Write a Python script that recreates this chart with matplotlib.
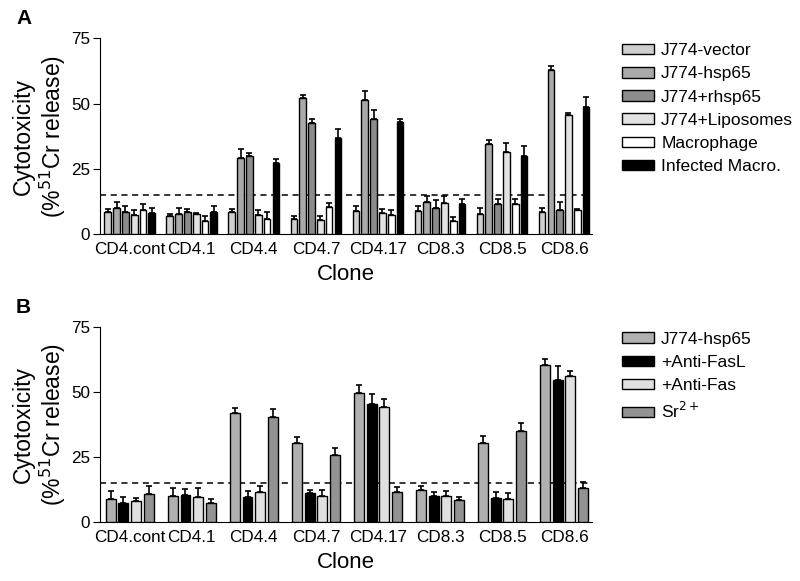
import numpy as np
import matplotlib.pyplot as plt

plt.rcParams['font.family'] = ['Liberation Sans', 'DejaVu Sans']

clones = ["CD4.cont", "CD4.1", "CD4.4", "CD4.7", "CD4.17", "CD8.3", "CD8.5", "CD8.6"]

# panel A: one list per treatment, one value per clone
names_a = ["J774-vector", "J774-hsp65", "J774+rhsp65", "J774+Liposomes", "Macrophage", "Infected Macro."]
vals_a = [
    [8.3, 6.8, 8.3, 5.9, 8.7, 8.8, 7.7, 8.3],
    [10.2, 7.9, 29.1, 52.3, 51.3, 12.4, 34.6, 63.0],
    [8.3, 8.3, 29.9, 42.7, 44.0, 10.1, 11.4, 9.4],
    [7.5, 7.7, 7.5, 5.6, 8.0, 11.9, 31.4, 45.6],
    [9.1, 5.2, 5.9, 10.3, 7.4, 5.2, 11.4, 9.1],
    [8.0, 8.4, 27.4, 36.7, 43.0, 11.6, 30.1, 48.6],
]
errs_a = [
    [1.3, 1.0, 1.4, 1.1, 1.9, 1.8, 2.4, 1.9],
    [2.0, 2.0, 3.7, 0.9, 3.4, 2.4, 1.4, 1.5],
    [2.3, 1.5, 1.3, 1.4, 3.7, 2.8, 1.9, 2.8],
    [1.8, 0.4, 1.9, 1.4, 1.7, 2.7, 3.6, 0.9],
    [2.3, 1.7, 2.4, 1.5, 2.0, 1.3, 1.9, 0.6],
    [2.0, 2.3, 1.4, 3.4, 1.0, 1.9, 3.6, 3.8],
]
colors_a = ["#cfcfcf", "#a9a9a9", "#8c8c8c", "#e2e2e2", "#ffffff", "#000000"]

# panel B
names_b = ["J774-hsp65", "+Anti-FasL", "+Anti-Fas", "Sr$^{2+}$"]
vals_b = [
    [8.7, 10.0, 42.0, 30.3, 49.7, 12.2, 30.3, 60.4],
    [7.4, 10.3, 9.7, 11.0, 45.5, 10.1, 9.2, 54.7],
    [8.1, 9.6, 11.5, 9.9, 44.1, 9.9, 9.0, 56.2],
    [10.8, 7.3, 40.3, 25.8, 11.7, 8.5, 35.1, 12.9],
]
errs_b = [
    [3.1, 3.2, 2.0, 2.3, 3.1, 1.5, 2.7, 2.4],
    [2.3, 2.3, 2.4, 1.4, 3.5, 1.3, 2.2, 5.4],
    [1.0, 3.6, 2.4, 2.4, 3.3, 2.2, 2.1, 1.8],
    [3.0, 1.4, 3.1, 2.6, 1.7, 1.0, 2.8, 2.3],
]
colors_b = ["#b0b0b0", "#000000", "#e0e0e0", "#939393"]

threshold = 15


def panel(ax, names, vals, errs, colors, width, pitch):
    x = np.arange(len(clones))
    n = len(names)
    for i in range(n):
        off = (i - (n - 1) / 2) * pitch
        e = np.array(errs[i])
        ax.bar(x + off, vals[i], width, color=colors[i], edgecolor="black",
               linewidth=1.0, label=names[i], zorder=3,
               yerr=[np.zeros_like(e), e], capsize=2,
               error_kw=dict(elinewidth=1.2, capthick=1.2, ecolor="black"))
    ax.axhline(threshold, color="black", ls=(0, (4, 3)), lw=1.1, zorder=1)
    ax.set_xlim(-0.48, 7.45)
    ax.set_ylim(0, 75)
    ax.set_yticks([0, 25, 50, 75])
    ax.set_xticks(x)
    ax.set_xticklabels(clones, fontsize=12.3)
    ax.tick_params(axis="x", length=0, pad=6)
    ax.tick_params(axis="y", labelsize=12.3, length=5, pad=2)
    for s in ["top", "right"]:
        ax.spines[s].set_visible(False)
    ax.set_ylabel("Cytotoxicity\n(%$^{51}$Cr release)", fontsize=16.5,
                  labelpad=2, linespacing=1.15)
    ax.set_xlabel("Clone", fontsize=16, labelpad=5)
    ax.legend(loc="upper left", bbox_to_anchor=(1.047, 1.01), frameon=False,
              fontsize=12.5, handlelength=1.85, handleheight=0.55,
              handletextpad=0.4, labelspacing=0.47, borderaxespad=0)


fig = plt.figure(figsize=(8, 5.81), dpi=100)
ax1 = fig.add_axes([0.125, 0.597, 0.615, 0.337])
ax2 = fig.add_axes([0.125, 0.1015, 0.615, 0.336])

panel(ax1, names_a, vals_a, errs_a, colors_a, 0.108, 0.142)
panel(ax2, names_b, vals_b, errs_b, colors_b, 0.16, 0.205)

fig.text(0.02, 0.968, "A", fontsize=15, fontweight="bold", va="center")
fig.text(0.02, 0.47, "B", fontsize=15, fontweight="bold", va="center")

fig.savefig("out.png", dpi=100)
